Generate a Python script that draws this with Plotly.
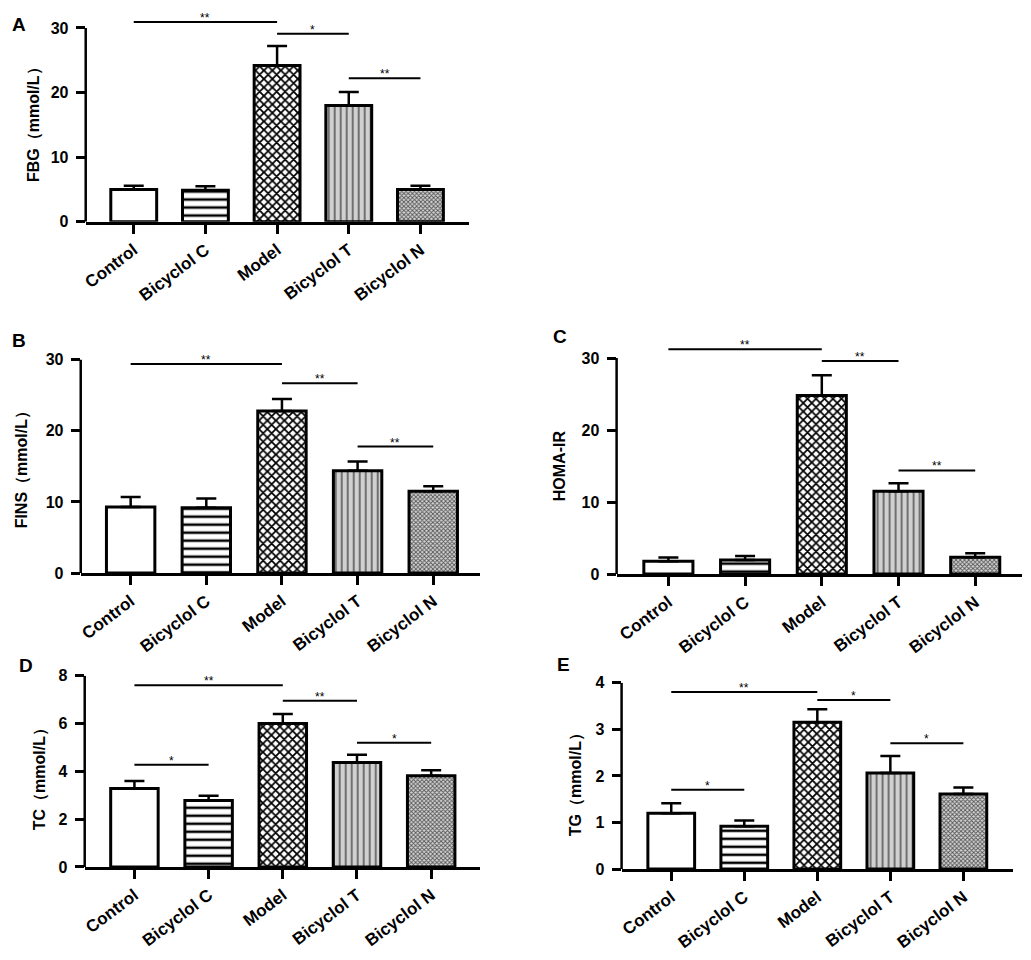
import plotly.graph_objects as go

groups = ["Control", "Bicyclol C", "Model", "Bicyclol T", "Bicyclol N"]

fbg = [5.0, 4.9, 24.2, 18.0, 5.0]
fbg_sd = [0.6, 0.6, 3.0, 2.1, 0.6]
fins = [9.3, 9.2, 22.8, 14.4, 11.5]
fins_sd = [1.4, 1.3, 1.7, 1.3, 0.7]
homa = [1.8, 1.95, 24.8, 11.5, 2.35]
homa_sd = [0.5, 0.55, 2.8, 1.1, 0.55]
tc = [3.28, 2.78, 6.0, 4.37, 3.82]
tc_sd = [0.32, 0.2, 0.4, 0.33, 0.23]
tg = [1.2, 0.92, 3.15, 2.06, 1.61]
tg_sd = [0.21, 0.12, 0.28, 0.37, 0.14]

# significance brackets: (group a, group b, height, stars)
fbg_sig = [(0, 2, 30.9, "**"), (2, 3, 29.1, "*"), (3, 4, 22.2, "**")]
fins_sig = [(0, 2, 29.4, "**"), (2, 3, 26.7, "**"), (3, 4, 17.8, "**")]
homa_sig = [(0, 2, 31.2, "**"), (2, 3, 29.6, "**"), (3, 4, 14.4, "**")]
tc_sig = [(0, 2, 7.6, "**"), (2, 3, 6.95, "**"), (3, 4, 5.2, "*"), (0, 1, 4.28, "*")]
tg_sig = [(0, 2, 3.8, "**"), (2, 3, 3.63, "*"), (3, 4, 2.7, "*"), (0, 1, 1.7, "*")]

fbg_ticks = [0, 10, 20, 30]
fins_ticks = [0, 10, 20, 30]
homa_ticks = [0, 10, 20, 30]
tc_ticks = [0, 2, 4, 6, 8]
tg_ticks = [0, 1, 2, 3, 4]

# the page body adds an 8px margin, so the figure is drawn 16px smaller;
# the photographed page also comes out slightly squeezed vertically
OFF = 8
W, H = 1031 - 2 * OFF, 960 - 2 * OFF
SQ, TOP = 0.9725, 15.5
FONT = "Arial, Liberation Sans, sans-serif"


def px(v):
    return (v - OFF) / W


def py(v):
    f = (v - TOP) / SQ
    return min(1.0, max(0.0, 1 - f / H))


# bar fill styles, one per group
pat_shape = ["", "-", "x", "|", "x"]
pat_size = [8, 8, 6, 6, 3]
pat_solid = [0.3, 0.32, 0.5, 0.25, 0.5]
pat_fg = ["black", "black", "black", "#505050", "#555555"]
pat_bg = ["white", "white", "white", "#d0d0d0", "#d6d6d6"]

# panel boxes in picture pixels: left, right, top, bottom ; x range ; y top
panels = [
    dict(letter="A", title="FBG（mmol/L）", y=fbg, sd=fbg_sd, sig=fbg_sig, ticks=fbg_ticks,
         box=(82, 467, 19, 220), xr=[-0.67, 4.68], ytop=31.3, tpos=(30, 119), lpos=(15, 24)),
    dict(letter="B", title="FINS（mmol/L）", y=fins, sd=fins_sd, sig=fins_sig, ticks=fins_ticks,
         box=(77, 478, 350, 569), xr=[-0.66, 4.62], ytop=31, tpos=(18, 462), lpos=(15, 338)),
    dict(letter="C", title="HOMA-IR", y=homa, sd=homa_sd, sig=homa_sig, ticks=homa_ticks,
         box=(615, 1022, 341, 570), xr=[-0.675, 4.61], ytop=32, tpos=(558, 462), lpos=(558, 334)),
    dict(letter="D", title="TC（mmol/L）", y=tc, sd=tc_sd, sig=tc_sig, ticks=tc_ticks,
         box=(81, 478, 671, 861), xr=[-0.67, 4.66], ytop=8, tpos=(37, 770), lpos=(22, 661)),
    dict(letter="E", title="TG（mmol/L）", y=tg, sd=tg_sd, sig=tg_sig, ticks=tg_ticks,
         box=(620, 1013, 678, 863), xr=[-0.68, 4.68], ytop=4, tpos=(575, 775), lpos=(562, 660)),
]

fig = go.Figure()
shapes = []
annotations = []

for k, p in enumerate(panels):
    n = "" if k == 0 else str(k + 1)
    xa, ya = "x" + n, "y" + n
    left, right, top, bottom = p["box"]

    # scalar marker colour, so the per-bar pattern colours are used as given
    fig.add_trace(go.Bar(
        x=groups, y=p["y"], xaxis=xa, yaxis=ya, width=0.64,
        marker=dict(
            color="white",
            line=dict(color="black", width=3),
            pattern=dict(shape=pat_shape, size=pat_size, solidity=pat_solid,
                         fgcolor=pat_fg, bgcolor=pat_bg, fillmode="replace"),
        ),
        error_y=dict(type="data", array=p["sd"], arrayminus=[0] * len(p["sd"]),
                     symmetric=False, color="black", thickness=2.5, width=10),
        showlegend=False,
    ))

    fig.layout["xaxis" + n] = dict(
        domain=[px(left), px(right)], anchor=ya, range=p["xr"],
        showline=True, linecolor="black", linewidth=2.5,
        ticks="outside", ticklen=9, tickwidth=2.5, tickcolor="black",
        tickangle=-37, tickfont=dict(family=FONT, size=17, color="black", weight="bold"),
        showgrid=False, zeroline=False, fixedrange=True,
    )
    fig.layout["yaxis" + n] = dict(
        domain=[py(bottom), py(top)], anchor=xa, range=[0, p["ytop"]],
        showline=False, tickvals=p["ticks"],
        ticks="outside", ticklen=9, tickwidth=2.5, tickcolor="black", ticklabelstandoff=4,
        tickfont=dict(family=FONT, size=16, color="black", weight="bold"),
        showgrid=False, zeroline=False, fixedrange=True,
    )

    # y axis line, stopping at the last tick
    shapes.append(dict(type="line", xref=xa + " domain", yref=ya, x0=0, x1=0,
                       y0=0, y1=max(p["ticks"]), line=dict(color="black", width=2.5)))

    for a, b, h, stars in p["sig"]:
        shapes.append(dict(type="line", xref=xa, yref=ya, x0=a, x1=b, y0=h, y1=h,
                           line=dict(color="black", width=2)))
        annotations.append(dict(xref=xa, yref=ya, x=(a + b) / 2, y=h, text=stars,
                                showarrow=False, yanchor="middle", yshift=4,
                                font=dict(family=FONT, size=12, color="black")))

    tx, ty = p["tpos"]
    annotations.append(dict(xref="paper", yref="paper", x=px(tx), y=py(ty),
                            text=p["title"], textangle=-90, showarrow=False,
                            xanchor="center", yanchor="middle",
                            font=dict(family=FONT, size=16, color="black", weight="bold")))
    lx, ly = p["lpos"]
    annotations.append(dict(xref="paper", yref="paper", x=px(lx), y=py(ly),
                            text=p["letter"], showarrow=False,
                            xanchor="center", yanchor="middle",
                            font=dict(family=FONT, size=19, color="black", weight="bold")))

fig.update_layout(
    width=W, height=H, margin=dict(l=0, r=0, t=0, b=0),
    paper_bgcolor="white", plot_bgcolor="white",
    shapes=shapes, annotations=annotations,
)

fig.write_html("out.html")
